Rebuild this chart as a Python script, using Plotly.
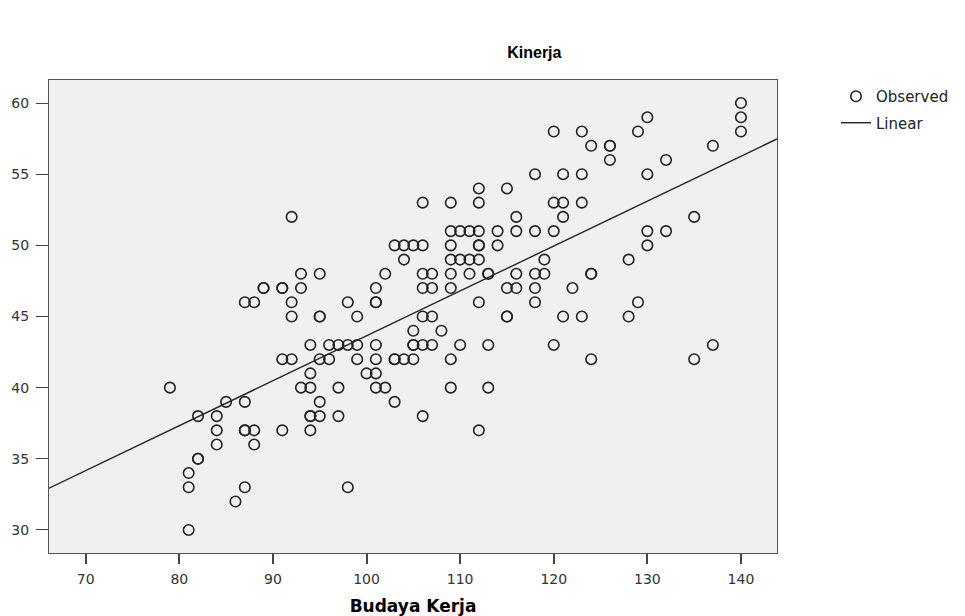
import plotly.graph_objects as go

# Budaya Kerja (x) and Kinerja (y) values, row by row
budaya_kerja = [
    140,
    130, 140,
    120, 123, 129, 140,
    124, 126, 126, 137,
    126, 132,
    118, 121, 123, 130,
    112, 115,
    106, 109, 112, 120, 121, 123,
    92, 116, 121, 135,
    109, 110, 111, 112, 114, 116, 118, 120, 130, 132,
    103, 104, 105, 106, 109, 112, 112, 114, 130,
    104, 109, 110, 111, 112, 119, 128,
    93, 95, 102, 106, 107, 109, 111, 113, 113, 116, 118, 119, 124, 124,
    89, 89, 91, 91, 93, 101, 106, 107, 109, 115, 116, 118, 122,
    87, 88, 92, 98, 101, 101, 112, 118, 129,
    92, 95, 95, 99, 106, 107, 115, 115, 121, 123, 128,
    105, 108,
    94, 96, 97, 98, 99, 101, 105, 105, 106, 107, 110, 113, 120, 137,
    91, 92, 95, 96, 99, 101, 103, 103, 104, 105, 109, 124, 135,
    94, 100, 101,
    79, 93, 94, 97, 101, 102, 109, 113,
    85, 87, 95, 103,
    82, 84, 94, 94, 95, 97, 106,
    84, 87, 87, 88, 91, 94, 112,
    84, 88,
    82, 82,
    81,
    81, 87, 98,
    86,
    81,
]
kinerja = [
    60,
    59, 59,
    58, 58, 58, 58,
    57, 57, 57, 57,
    56, 56,
    55, 55, 55, 55,
    54, 54,
    53, 53, 53, 53, 53, 53,
    52, 52, 52, 52,
    51, 51, 51, 51, 51, 51, 51, 51, 51, 51,
    50, 50, 50, 50, 50, 50, 50, 50, 50,
    49, 49, 49, 49, 49, 49, 49,
    48, 48, 48, 48, 48, 48, 48, 48, 48, 48, 48, 48, 48, 48,
    47, 47, 47, 47, 47, 47, 47, 47, 47, 47, 47, 47, 47,
    46, 46, 46, 46, 46, 46, 46, 46, 46,
    45, 45, 45, 45, 45, 45, 45, 45, 45, 45, 45,
    44, 44,
    43, 43, 43, 43, 43, 43, 43, 43, 43, 43, 43, 43, 43, 43,
    42, 42, 42, 42, 42, 42, 42, 42, 42, 42, 42, 42, 42,
    41, 41, 41,
    40, 40, 40, 40, 40, 40, 40, 40,
    39, 39, 39, 39,
    38, 38, 38, 38, 38, 38, 38,
    37, 37, 37, 37, 37, 37, 37,
    36, 36,
    35, 35,
    34,
    33, 33, 33,
    32,
    30,
]

# Linear fit coefficients
intercept = 12.08
slope = 0.3156

x_ticks = [70, 80, 90, 100, 110, 120, 130, 140]
y_ticks = [30, 35, 40, 45, 50, 55, 60]

x_range = [66.08, 143.85]
y_range = [28.38, 61.62]

line_x = x_range
line_y = [intercept + slope * v for v in line_x]

ARIAL = "Arial, Liberation Sans, sans-serif"
WIDE = "DejaVu Sans, Verdana, sans-serif"

fig = go.Figure()
fig.add_trace(go.Scatter(
    x=budaya_kerja, y=kinerja, mode="markers", name="Observed",
    legendgroup="obs",
    marker=dict(symbol="circle-open", size=10.5, color="#222222",
                line=dict(width=1.6, color="#222222")),
))
fig.add_trace(go.Scatter(
    x=line_x, y=line_y, mode="lines", name="Linear",
    legendgroup="lin",
    line=dict(color="#222222", width=1.4),
))

fig.update_layout(
    width=957, height=608,
    margin=dict(l=41, r=187, t=72, b=63),
    paper_bgcolor="white",
    plot_bgcolor="#F0F0F0",
    font=dict(family=WIDE, size=14, color="#222222"),
    title=dict(text="<b>Kinerja</b>", x=(535 - 49) / 729, xref="paper", xanchor="center",
               y=1 - 44 / 608, yanchor="middle",
               font=dict(family=ARIAL, size=16, color="#000000")),
    showlegend=True,
    legend=dict(x=(836 - 49) / 729, y=1.0, xanchor="left", yanchor="top",
                bgcolor="rgba(0,0,0,0)",
                font=dict(family=WIDE, size=15, color="#222222"),
                itemwidth=30, tracegroupgap=4, traceorder="grouped"),
)

fig.update_xaxes(
    automargin=False,
    range=x_range, tickvals=x_ticks, ticktext=[str(v) for v in x_ticks],
    showgrid=False, zeroline=False,
    showline=True, mirror=True, linecolor="#555555", linewidth=1.3,
    ticks="outside", ticklen=10, tickcolor="#444444", tickwidth=1.5,
    ticklabelstandoff=3,
    tickfont=dict(family=WIDE, size=14, color="#333333"),
    title=dict(text="<b>Budaya Kerja</b>", standoff=14,
               font=dict(family=WIDE, size=17, color="#000000")),
)
fig.update_yaxes(
    automargin=False,
    range=y_range, tickvals=y_ticks, ticktext=[str(v) for v in y_ticks],
    showgrid=False, zeroline=False,
    showline=True, mirror=True, linecolor="#555555", linewidth=1.3,
    ticks="outside", ticklen=12, tickcolor="#444444", tickwidth=1,
    ticklabelstandoff=4,
    tickfont=dict(family=WIDE, size=14, color="#333333"),
)

fig.write_html("out.html")
